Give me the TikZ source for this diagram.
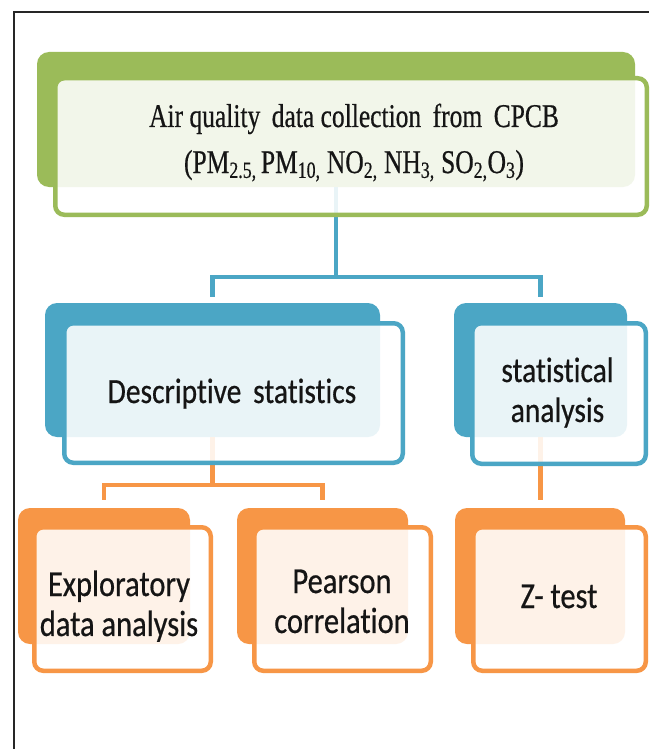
\documentclass[tikz,border=0pt]{standalone}
\usepackage{fontspec}
\usepackage{graphicx}
\newfontfamily\serifft[FakeBold=0.6]{Liberation Serif}
\newfontfamily\sansft[Ligatures=NoCommon,FakeBold=0.6]{Carlito}
\definecolor{cgreen}{HTML}{9BBB59}
\definecolor{cblue}{HTML}{4BA6C5}
\definecolor{corange}{HTML}{F79646}
\definecolor{ctext}{HTML}{151515}
\begin{document}
\begin{tikzpicture}[x=1pt,y=-1pt,
  backbox/.style={rectangle, rounded corners=12pt, inner sep=0pt, draw=none},
  frontbox/.style={rectangle, rounded corners=9pt, inner sep=0pt, line width=4.5pt, fill=white, fill opacity=0.88, draw opacity=1},
  conn/.style={line width=4.5pt},
  txt/.style={anchor=base, inner sep=0pt, text=ctext, text opacity=1}]
\useasboundingbox (0,0) rectangle (649,749);
\fill[white] (0,0) rectangle (649,749);
% frame
\draw[line width=2pt, black!85] (14,749) -- (14,12) -- (649,12);
% back boxes
\node[backbox, fill=cgreen, minimum width=598pt, minimum height=135pt] (topb) at (336,119.5) {};
\node[backbox, fill=cblue, minimum width=335pt, minimum height=134pt] (blb) at (212.5,370) {};
\node[backbox, fill=cblue, minimum width=173pt, minimum height=134pt] (brb) at (540.5,370) {};
\node[backbox, fill=corange, minimum width=172pt, minimum height=136pt] (o1b) at (104,576) {};
\node[backbox, fill=corange, minimum width=171pt, minimum height=136pt] (o2b) at (322.5,576) {};
\node[backbox, fill=corange, minimum width=170pt, minimum height=136pt] (o3b) at (540,576) {};
% connector junctions
\coordinate (bj) at (336,277);
\coordinate (oj) at (212.5,485);
% connectors
\draw[conn, cblue] (topb.south) -- (bj);
\draw[conn, cblue] ([yshift=6pt]blb.north) |- (bj) -| ([yshift=6pt]brb.north);
\draw[conn, corange] (blb.south) -- (oj);
\draw[conn, corange] ([yshift=8pt]o1b.north) |- (oj) -| ([yshift=8pt]o2b.north);
\draw[conn, corange] (brb.south) -- ([yshift=8pt]brb.south |- o3b.north);
% front boxes
\node[frontbox, draw=cgreen, minimum width=591.5pt, minimum height=136.5pt] (topf) at (351,146.5) {};
\node[frontbox, draw=cblue, minimum width=338.5pt, minimum height=139.5pt] (blf) at (233.5,393) {};
\node[frontbox, draw=cblue, minimum width=173.5pt, minimum height=140.5pt] (brf) at (559,393.5) {};
\node[frontbox, draw=corange, minimum width=176.5pt, minimum height=143.5pt] (o1f) at (122.5,599) {};
\node[frontbox, draw=corange, minimum width=176.5pt, minimum height=143.5pt] (o2f) at (342.5,599) {};
\node[frontbox, draw=corange, minimum width=172.5pt, minimum height=143.5pt] (o3f) at (559.5,599) {};
% texts
\node[txt] (toptxt) at (354,127) {\scalebox{1}[1.3]{\serifft\fontsize{25.5}{35.4}\selectfont\begin{tabular}[t]{@{}c@{}}Air quality\hspace{0.45em}data collection\hspace{0.45em}from\hspace{0.45em}CPCB\\(PM\textsubscript{2.5,}\,PM\textsubscript{10,} NO\textsubscript{2,} NH\textsubscript{3,} SO\textsubscript{2,}O\textsubscript{3})\end{tabular}}};
\node[txt] (bltxt) at (232,403) {\scalebox{1}[1.2]{\sansft\fontsize{29.5}{33.3}\selectfont Descriptive\hspace{0.4em}statistics}};
\node[txt] (brtxt) at (557.5,382) {\scalebox{1}[1.2]{\sansft\fontsize{29.5}{33.3}\selectfont\begin{tabular}[t]{@{}c@{}}statistical\\analysis\end{tabular}}};
\node[txt] (o1txt) at (119,596) {\scalebox{1}[1.2]{\sansft\fontsize{30.5}{33.3}\selectfont\begin{tabular}[t]{@{}c@{}}Exploratory\\data analysis\end{tabular}}};
\node[txt] (o2txt) at (342,593) {\scalebox{1}[1.2]{\sansft\fontsize{30.5}{33.3}\selectfont\begin{tabular}[t]{@{}c@{}}Pearson\\correlation\end{tabular}}};
\node[txt] (o3txt) at (559,608) {\scalebox{1}[1.2]{\sansft\fontsize{30.5}{33.3}\selectfont Z- test}};
\end{tikzpicture}
\end{document}
